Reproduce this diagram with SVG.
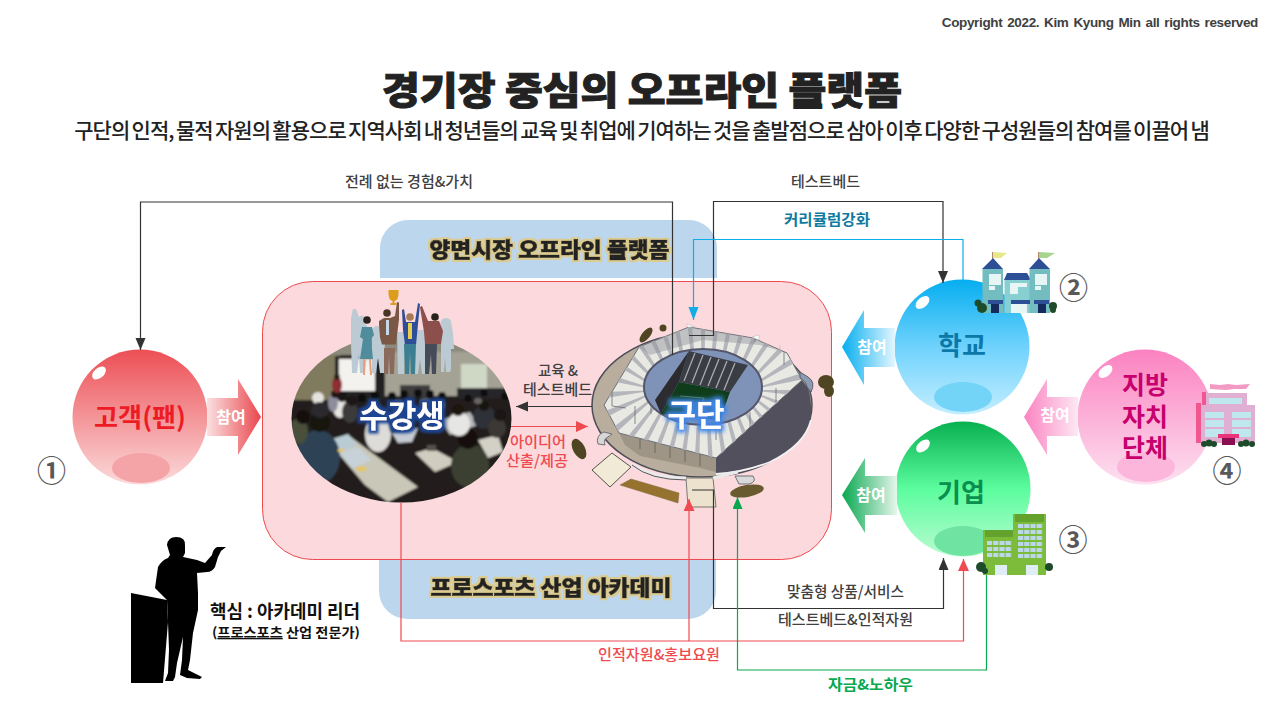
<svg xmlns="http://www.w3.org/2000/svg" width="1280" height="720" viewBox="0 0 1280 720">
<style>
text{font-family:"Noto Sans CJK KR","Noto Sans KR","Liberation Sans",sans-serif;text-anchor:middle}
.lb{font-size:15px;font-weight:500;fill:#404040}
.join{font-size:16px;font-weight:700;fill:#fff}
.num{font-size:29px;font-weight:700;fill:#595959}
.band{font-size:21px;font-weight:900;fill:#222;stroke:#222;stroke-width:.7px}
.glow{font-size:31px;font-weight:700;fill:#fff}
.c{fill:none;stroke-width:1.200}
.hi{fill:#fff}
.w{fill:none;stroke-dasharray:5.200 1}
</style>
<defs>
<linearGradient id="gRed" x1="0" y1="0" x2="0" y2="1"><stop offset="0" stop-color="#ec4f55"/><stop offset="1" stop-color="#fbdadb"/></linearGradient>
<linearGradient id="gBlue" x1="0" y1="0" x2="0" y2="1"><stop offset="0" stop-color="#05aef0"/><stop offset=".5" stop-color="#6fd2fc"/><stop offset="1" stop-color="#c4eeff"/></linearGradient>
<linearGradient id="gGreen" x1="0" y1="0" x2="0" y2="1"><stop offset="0" stop-color="#08b050"/><stop offset=".5" stop-color="#5cfd9e"/><stop offset="1" stop-color="#b9fbd1"/></linearGradient>
<linearGradient id="gPink" x1="0" y1="0" x2="0" y2="1"><stop offset="0" stop-color="#fb82c0"/><stop offset="1" stop-color="#fde0f0"/></linearGradient>
<linearGradient id="aRed" x1="0" y1="0" x2="1" y2="0"><stop offset="0" stop-color="#fbe0e1"/><stop offset="1" stop-color="#e9474e"/></linearGradient>
<linearGradient id="aBlue" x1="1" y1="0" x2="0" y2="0"><stop offset="0" stop-color="#e4f6fe"/><stop offset="1" stop-color="#05aef0"/></linearGradient>
<linearGradient id="aGreen" x1="1" y1="0" x2="0" y2="0"><stop offset="0" stop-color="#e6f6ec"/><stop offset="1" stop-color="#08a850"/></linearGradient>
<linearGradient id="aPink" x1="1" y1="0" x2="0" y2="0"><stop offset="0" stop-color="#fde8f4"/><stop offset="1" stop-color="#fb82c0"/></linearGradient>
<clipPath id="cPhoto"><ellipse cx="401.500" cy="418.500" rx="110" ry="84"/></clipPath>
<clipPath id="cRoof"><polygon points="604,405 639,347 689,327 753,338 787,353 802,380 716,458 619,433"/></clipPath>
<filter id="soft" x="-5%" y="-5%" width="110%" height="110%"><feGaussianBlur stdDeviation=".8"/></filter>
<filter id="soft2" x="-5%" y="-5%" width="110%" height="110%"><feGaussianBlur stdDeviation=".35"/></filter>
<filter id="bandF" x="-5%" y="-20%" width="110%" height="140%">
<feMorphology in="SourceAlpha" operator="dilate" radius="2" result="o"/><feFlood flood-color="#dccb8f"/><feComposite in2="o" operator="in" result="tan"/>
<feMerge><feMergeNode in="tan"/><feMergeNode in="SourceGraphic"/></feMerge></filter>
<filter id="glowD" x="-20%" y="-30%" width="140%" height="160%">
<feMorphology in="SourceAlpha" operator="dilate" radius="3" result="o"/><feGaussianBlur in="o" stdDeviation="1.500" result="b"/><feFlood flood-color="#1c4594"/><feComposite in2="b" operator="in" result="g"/>
<feMerge><feMergeNode in="g"/><feMergeNode in="SourceGraphic"/></feMerge></filter>
<filter id="glowL" x="-20%" y="-30%" width="140%" height="160%">
<feMorphology in="SourceAlpha" operator="dilate" radius="2.500" result="o"/><feGaussianBlur in="o" stdDeviation="2" result="b"/><feFlood flood-color="#3f86e8"/><feComposite in2="b" operator="in" result="g"/>
<feMerge><feMergeNode in="g"/><feMergeNode in="SourceGraphic"/></feMerge></filter>
<marker id="mD" markerWidth="13" markerHeight="12" refX="12" refY="5" orient="auto" markerUnits="userSpaceOnUse"><path d="M0,0L12,5L0,10Z" fill="#333"/></marker>
<marker id="mR" markerWidth="13" markerHeight="12" refX="12" refY="5.500" orient="auto" markerUnits="userSpaceOnUse"><path d="M0,0L12,5.500L0,11Z" fill="#ee4a50"/></marker>
<marker id="mC" markerWidth="14" markerHeight="12" refX="13" refY="5" orient="auto" markerUnits="userSpaceOnUse"><path d="M0,0L13,5L0,10Z" fill="#10aee8"/></marker>
<marker id="mG" markerWidth="13" markerHeight="12" refX="12" refY="5" orient="auto" markerUnits="userSpaceOnUse"><path d="M0,0L12,5L0,10Z" fill="#08a850"/></marker>
</defs>
<rect width="1280" height="720" fill="#fff"/>

<g id="header">
<text x="1258" y="27" style="font-family:'Liberation Sans',sans-serif;font-size:13.500px;font-weight:700;fill:#404040;text-anchor:end;word-spacing:1.500px;letter-spacing:-.36px">Copyright 2022. Kim Kyung Min all rights reserved</text>
<text x="642" y="104" style="font-size:38px;font-weight:900;fill:#222;stroke:#222;stroke-width:1px" textLength="520" lengthAdjust="spacingAndGlyphs">경기장 중심의 오프라인 플랫폼</text>
<text x="641.500" y="138" style="font-size:21px;font-weight:500;fill:#222;word-spacing:-1.500px;letter-spacing:-.95px">구단의 인적, 물적 자원의 활용으로 지역사회 내 청년들의 교육 및 취업에 기여하는 것을 출발점으로 삼아 이후 다양한 구성원들의 참여를 이끌어 냄</text>
</g>

<g id="platform">
<path d="M380,278V248a28,28 0 0 1 28,-28H689a28,28 0 0 1 28,28V278Z" fill="#bcd6ee"/>
<path d="M379,550H716V591a28,28 0 0 1 -28,28H407a28,28 0 0 1 -28,-28Z" fill="#bcd6ee"/>
<rect x="262.500" y="281.500" width="569" height="278" rx="50" fill="#fbd9dc" stroke="#ee4a50" stroke-width="1"/>
<text class="band" x="549.500" y="257" filter="url(#bandF)" textLength="240" lengthAdjust="spacingAndGlyphs">양면시장 오프라인 플랫폼</text>
<text class="band" x="551" y="595" filter="url(#bandF)" textLength="241" lengthAdjust="spacingAndGlyphs">프로스포츠 산업 아카데미</text>
</g>

<g id="students">
<g clip-path="url(#cPhoto)"><g filter="url(#soft)">
<rect x="285" y="330" width="232" height="180" fill="#211e1a"/>
<rect x="285" y="330" width="232" height="25" fill="#8b8a7c"/>
<rect x="285" y="355" width="55" height="45" fill="#807a5e"/>
<rect x="375" y="352" width="140" height="44" fill="#a4a294"/>
<rect x="335" y="356" width="50" height="44" fill="#232220"/>
<rect x="339" y="359" width="36" height="32" fill="#f4f2ef"/>
<rect x="461" y="364" width="26" height="24" fill="#cfd8c5"/>
<rect x="457" y="388" width="50" height="10" fill="#26262a"/>
<rect x="400" y="385" width="30" height="12" fill="#3c3c3c"/>
<polygon points="327,440 348,435 418,487 388,502 365,485" fill="#c9c7b8"/>
<polygon points="330,440 348,434 358,445 340,451" fill="#b9ccd4"/>
<polygon points="338,452 358,447 372,460 352,468" fill="#c6d2d8"/>
<polygon points="415,453 432,448 458,462 435,472" fill="#d0cdc0"/>
<polygon points="478,440 498,435 503,452 488,458" fill="#d3d0c6"/>
<polygon points="392,433 418,428 412,442 398,443" fill="#c6ccd4"/>
<polygon points="440,420 470,412 478,425 450,435" fill="#b4b6ba"/>
<ellipse cx="318" cy="457" rx="22" ry="27" fill="#2f4357"/>
<circle cx="320" cy="422" r="10" fill="#191411"/>
<ellipse cx="299" cy="431" rx="9" ry="13" fill="#4a4f3a"/>
<circle cx="303" cy="417" r="7" fill="#15110e"/>
<circle cx="318" cy="398" r="6" fill="#e5e3de"/><ellipse cx="320" cy="410" rx="9" ry="8" fill="#2a2a2e"/>
<ellipse cx="340" cy="408" rx="7" ry="10" fill="#e7e5e2"/><circle cx="342" cy="397" r="5" fill="#1b1714"/>
<ellipse cx="333" cy="403" rx="5" ry="9" fill="#8d8d9d"/><circle cx="335" cy="394" r="4" fill="#1b1714"/>
<ellipse cx="337" cy="385" rx="5" ry="8" fill="#8c2d32"/><circle cx="337" cy="377" r="3" fill="#2a1c18"/>
<ellipse cx="350" cy="412" rx="8" ry="11" fill="#3b3a3a"/><circle cx="352" cy="401" r="5" fill="#1a1613"/>
<ellipse cx="378" cy="434" rx="13" ry="18" fill="#dedcd8"/>
<circle cx="378" cy="414" r="6" fill="#1a1512"/>
<ellipse cx="470" cy="466" rx="19" ry="22" fill="#3b4033"/><circle cx="468" cy="439" r="10" fill="#15100d"/>
<ellipse cx="459" cy="424" rx="11" ry="12" fill="#e6e6e4"/><circle cx="458" cy="410" r="6" fill="#1a1511"/>
<ellipse cx="484" cy="417" rx="11" ry="12" fill="#2e3038"/><circle cx="484" cy="406" r="5" fill="#171310"/>
<ellipse cx="497" cy="428" rx="9" ry="10" fill="#3a3836"/><circle cx="500" cy="415" r="6" fill="#1a1613"/>
<g fill="#0e0c0a"><circle cx="362" cy="398" r="4"/><circle cx="375" cy="395" r="4"/><circle cx="392" cy="396" r="4"/><circle cx="404" cy="394" r="4"/><circle cx="418" cy="393" r="4"/><circle cx="430" cy="394" r="4"/><circle cx="442" cy="396" r="4"/><circle cx="468" cy="398" r="3.500"/><circle cx="484" cy="393" r="3.500"/><circle cx="505" cy="396" r="3.500"/></g>
<g fill="#6a6864"><ellipse cx="398" cy="404" rx="5" ry="4"/><ellipse cx="425" cy="402" rx="5" ry="4"/><ellipse cx="440" cy="405" rx="5" ry="4"/><ellipse cx="478" cy="401" rx="4" ry="3"/></g>
<rect x="427" y="445" width="9" height="6" fill="#555148"/><rect x="357" y="467" width="9" height="4" fill="#e6c64c"/><rect x="338" y="449" width="6" height="3" fill="#e6c64c"/>
</g></g>
<g id="people" filter="url(#soft2)">
<g fill="#bccad4">
<path d="M353,309l3,0l3,8a5,5 0 1 1 0,8h8v30l-2,18h-5l-1,-18l-2,18h-5l-1,-30l0,-25z"/>
<path d="M372,331a5,5 0 1 1 10,0l3,6l-1,36h-4l-2,-15l-2,15h-4z"/>
<path d="M397,332h8v10l-1,32h-6z"/>
<path d="M415,330h10v44h-3l-2,-15l-2,15h-3z"/>
<path d="M441,326a5.500,5.500 0 0 1 10,-5l2,12l1,16h-3v20l-1,3h-4l-1,-14l-1,14h-3z"/>
</g>
<g id="p1"><circle cx="367" cy="320" r="3.800" fill="#2c201a"/><path d="M362,327h10l2,8l-3,4l2,20l-13,0l3,-20l-3,-2z" fill="#4f8c9c"/><path d="M364,359l0,16M370,359l1,16" stroke="#e8a17c" stroke-width="2"/></g>
<g id="p2"><circle cx="387" cy="313" r="3.800" fill="#4a3626"/><path d="M379,321l5,-3h6l5,-2l2,-14l2,0.500l0,17l-2,16l-1,9h-14l-2,-7l-1,-13z" fill="#7a5844"/><path d="M384,348h11l-1,26h-4l-1,-18l-1,18h-4z" fill="#8a6a5c"/><rect x="386" y="320" width="3" height="15" fill="#c5d8e8"/></g>
<g id="p3"><circle cx="410" cy="317" r="3.800" fill="#a87a55"/><path d="M402,310l2,-1l2,13h9l3,-19l2,1l-2,20l-2,21h-11l-2,-15z" fill="#2e4f97"/><rect x="408" y="323" width="4" height="16" fill="#e6d050"/><path d="M404,344h12l-1,30h-4l-1,-22l-1,22h-4z" fill="#3c7f92"/></g>
<g id="p4"><circle cx="435" cy="317" r="3.800" fill="#2b211d"/><path d="M420,307l2,-1l6,15h11l4,10l-2,13h-16l-1,-12z" fill="#8c4f4c"/><path d="M425,344h12l-1,30h-4l-1,-20l-2,20h-4z" fill="#444c58"/></g>
<path d="M388.500,290h10v3q0,7-4,8l0,2h2v2h-6v-2h2l0,-2q-4,-1-4,-8z" fill="#dc9c1e"/>
</g>
<text class="glow" x="402" y="427" filter="url(#glowD)">수강생</text>
</g>

<g id="club">
<ellipse cx="702" cy="405" rx="110" ry="72" fill="#b9ae9e" stroke="#4c4d58" stroke-width="1.500"/>
<path d="M802,380L808,388Q812,400 811,420Q805,445 770,462Q745,472 716,474L716,458Z" fill="#51505c"/>
<path d="M811,420Q805,445 770,462Q745,472 716,474" fill="none" stroke="#f2f2f2" stroke-width="1.800"/>
<polygon points="619,433 716,458 716,472 700,468 640,456 625,445" fill="#9e9586"/>
<g stroke="#6b6860" stroke-width="1"><path d="M640,437V449M655,441V453M670,445V458M685,449V462M700,453V466"/></g>
<polygon points="604,405 639,347 689,327 753,338 787,353 802,380 716,458 619,433" fill="#e9e9e4" stroke="#6d6f78" stroke-width="1"/>
<g clip-path="url(#cRoof)">
<ellipse cx="703" cy="390" rx="80" ry="52" fill="none" stroke="#b4b6bb" stroke-width="60" stroke-dasharray="4 8"/>
<path d="M639,347L689,327L753,338L787,353L760,345L703,340L650,355Z" fill="#8e9098" opacity=".45"/>
<path d="M612,388v18l14,2M626,360v-8l10,-3M651,414v-10l8,5M635,424v-18M696,420v-18M716,440v-18M750,428v-16M776,402v-14M784,365v-14M755,342v-12M727,334l0,-10" fill="none" stroke="#6b6d75" stroke-width=".8"/>
</g>
<path d="M687,324l8,3l-8,0zM752,337l7,-2l0,5zM780,345v8" fill="#fff" stroke="#b0b0b0" stroke-width=".5"/>
<ellipse cx="703" cy="387" rx="59" ry="38" fill="#7f93b8" stroke="#55566a" stroke-width="2"/>
<polygon points="689,351 748,365 730,392 679,382" fill="#3b3d44"/>
<polygon points="679,382 689,351 655,400 661,414" fill="#2c2c30"/>
<polygon points="679,382 730,392 720,420 661,414" fill="#0f3d1c"/>
<path d="M695,353L684,381M703,355L692,383M711,357L700,385M719,359L708,386M727,361L716,388M735,363L724,390" stroke="#a9abb0" stroke-width="1.300"/>
<path d="M680,396L704,398L700,414" fill="none" stroke="#7fa78c" stroke-width=".6"/>
<polygon points="592,470 612,453 631,467 610,487" fill="#f0ead6" stroke="#55534c" stroke-width="1"/>
<polygon points="686,478 713,478 716,507 688,507" fill="#ece2cd" stroke="#7a7872" stroke-width="1"/>
<polygon points="620,485 631,479 679,493 678,503" fill="#96722f" stroke="#7e6a40" stroke-width=".5"/>
<path d="M632,464Q650,478 686,478M713,478L738,472" fill="none" stroke="#eaeaea" stroke-width="3"/>
<path d="M632,465Q650,480 686,480" fill="none" stroke="#55565f" stroke-width="1"/>
<path d="M598,444a9,9 0 0 1 6,-12l8,2l-4,3q-5,2-3,8z" fill="#d7d7d7" stroke="#6f7078" stroke-width="1"/>
<path d="M800,372l8,5q8,5 3,15l-4,-5q-1,-6-7,-9z" fill="#8b9bb4" stroke="#5b5d68" stroke-width="1"/>
<path d="M735,476h18q4,6-4,8h-10z" fill="#d9d9d9" stroke="#6f7078" stroke-width="1"/>
<g fill="#4f4522"><ellipse cx="646" cy="335" rx="4" ry="9" transform="rotate(40 646 335)"/><circle cx="663" cy="328" r="3.500"/><ellipse cx="826" cy="382" rx="8" ry="7"/><ellipse cx="829" cy="391" rx="5" ry="6"/><ellipse cx="579" cy="449" rx="6" ry="11" transform="rotate(-28 579 449)"/><ellipse cx="747" cy="491" rx="17" ry="6" transform="rotate(-10 747 491)" fill="#6a5a30"/></g>
<text class="glow" x="696" y="426" filter="url(#glowL)">구단</text>
</g>

<g id="fan">
<circle cx="140" cy="417" r="67.500" fill="url(#gRed)"/>
<ellipse cx="141" cy="468" rx="29" ry="15" fill="#f4a3a6"/>
<ellipse cx="99" cy="373" rx="8" ry="5" class="hi" transform="rotate(-40 99 373)"/>
<text x="140" y="427" style="font-size:26px;font-weight:700;fill:#ed1c24" textLength="92" lengthAdjust="spacingAndGlyphs">고객(팬)</text>
<path d="M207,398H238V379L261,417L238,455V436H207Z" fill="url(#aRed)"/>
<text class="join" x="231" y="423">참여</text>
<text class="num" x="51.500" y="482">①</text>
</g>

<g id="school">
<circle cx="962" cy="347" r="67.500" fill="url(#gBlue)"/>
<ellipse cx="963" cy="397" rx="29" ry="15" fill="#74d4f8"/>
<ellipse cx="922.500" cy="302.500" rx="8" ry="5" class="hi" transform="rotate(-40 922.500 302.500)"/>
<text x="962" y="355" style="font-size:26px;font-weight:700;fill:#0b78a8">학교</text>
<path d="M895,328H864V310L842,347L864,385V367H895Z" fill="url(#aBlue)"/>
<text class="join" x="872" y="353">참여</text>
<text class="num" x="1073.500" y="299">②</text>
<g id="school-building">
<path d="M992.500,252V260M1038.500,252V260" stroke="#b08a6a" stroke-width="1"/>
<path d="M993,252l14,1l-6,5h-8z" fill="#e6e88a"/><path d="M1039,252l16,1l-8,5h-8z" fill="#a6d48e"/>
<path d="M982,269L993,258L1003,269Z M1029,269L1039,258L1050,269Z M1004,280l3,-7h20l4,7z" fill="#2c4f96"/>
<rect x="982.500" y="269" width="20.500" height="44" fill="#73bcc0"/><rect x="1004.500" y="280" width="26" height="33" fill="#88cfd2"/><rect x="1029.500" y="269" width="20.500" height="44" fill="#73bcc0"/>
<g fill="#e8f5f5"><rect x="989" y="274" width="12" height="11"/><rect x="989" y="286" width="6" height="4"/><rect x="1010" y="283" width="8" height="11"/><rect x="1018" y="283" width="9" height="4"/><rect x="1035" y="274" width="12" height="11"/><rect x="1035" y="286" width="6" height="4"/></g>
<g fill="#2c4f96"><rect x="988" y="300" width="15" height="4"/><rect x="1011" y="300" width="19" height="4"/><rect x="1034" y="300" width="15" height="4"/></g>
<rect x="991" y="304" width="8" height="9" fill="#142a5c"/><rect x="1011" y="304" width="16" height="9" fill="#e8f5f5"/><rect x="1038" y="304" width="8" height="9" fill="#142a5c"/>
<g fill="#1e4c2a"><circle cx="978" cy="303" r="3.500"/><circle cx="982" cy="308" r="5"/><circle cx="1053" cy="306" r="4"/><circle cx="1053" cy="310" r="3"/></g>
</g>
</g>

<g id="company">
<circle cx="963" cy="489" r="67.500" fill="url(#gGreen)"/>
<ellipse cx="963" cy="541" rx="29" ry="15" fill="#6fe4a2"/>
<ellipse cx="923" cy="446" rx="8" ry="5" class="hi" transform="rotate(-40 923 446)"/>
<text x="961" y="502" style="font-size:26px;font-weight:700;fill:#0a8f4f">기업</text>
<path d="M897,476H865V458L842,495L865,533V515H897Z" fill="url(#aGreen)"/>
<text class="join" x="871" y="501">참여</text>
<text class="num" x="1073" y="551">③</text>
<g id="company-building">
<rect x="1013" y="514" width="33" height="61" fill="#7dbb3a"/><rect x="1015" y="514" width="29" height="8" fill="#63a32d"/>
<rect x="983" y="530" width="30" height="45" fill="#7dbb3a"/><rect x="985" y="530" width="28" height="7" fill="#63a32d"/>
<path class="w" d="M987,543H1012M987,549H1012M987,555H1012" stroke="#bcd6ea" stroke-width="4"/>
<path class="w" d="M1018,526H1043M1018,532H1043M1018,538H1043M1018,544H1043M1018,550H1043M1018,556H1043" stroke="#bcd6ea" stroke-width="4"/>
<rect x="995" y="565" width="12" height="10" fill="#dfeef5"/><rect x="1026" y="565" width="12" height="10" fill="#dfeef5"/>
<g fill="#1e4c2a"><circle cx="981" cy="567" r="5"/><circle cx="985" cy="571" r="3"/><circle cx="1049" cy="567" r="4"/></g>
</g>
</g>

<g id="local">
<circle cx="1145" cy="417" r="67.500" fill="url(#gPink)"/>
<ellipse cx="1146" cy="467" rx="29" ry="15" fill="#fcb6dc"/>
<ellipse cx="1105.500" cy="371.500" rx="8" ry="5" class="hi" transform="rotate(-40 1105.500 371.500)"/>
<text style="font-size:25px;font-weight:700;fill:#c8006e"><tspan x="1145" y="394">지방</tspan><tspan x="1145" y="426">자치</tspan><tspan x="1145" y="457">단체</tspan></text>
<path d="M1078,397H1047V379L1024,417L1047,455V436H1078Z" fill="url(#aPink)"/>
<text class="join" x="1055" y="421">참여</text>
<text class="num" x="1227" y="482">④</text>
<g id="local-building">
<path d="M1210,384l10,1l8,-1l8,1l14,-1l-4,5l-12,0l-8,1l-16,-1z" fill="#f29ac4"/>
<rect x="1202" y="393" width="45" height="14" fill="#e0b0d2"/><rect x="1202" y="392" width="4" height="16" fill="#f0578f"/>
<rect x="1197" y="405" width="58" height="38" fill="#e0b0d2"/><rect x="1196" y="403" width="5" height="40" fill="#f0578f"/>
<g fill="#bfe8ee"><rect x="1209" y="398" width="33" height="6"/><rect x="1205" y="412" width="19" height="25"/><rect x="1232" y="412" width="19" height="25"/></g>
<path d="M1205,419h19M1205,428h19M1232,419h19M1232,428h19" stroke="#e0b0d2" stroke-width="2"/>
<rect x="1218" y="434" width="21" height="4" fill="#e8347a"/><rect x="1222" y="438" width="13" height="7" fill="#8a0f50"/>
<g fill="#1e4c2a"><circle cx="1204" cy="444" r="3"/><circle cx="1209" cy="443" r="3.500"/><circle cx="1214" cy="444" r="3"/><circle cx="1241" cy="444" r="3"/><circle cx="1246" cy="443" r="3.500"/><circle cx="1252" cy="444" r="3"/></g>
</g>
</g>

<g id="leader">
<path d="M131,593L167,600L168,622L163,683H131Z" fill="#000"/>
<path d="M167,545Q168,537 176,537Q186,537 185,546L185,553L183,557L197,560L205,563L212,555Q213,549 217,547L226,547L221,551L218,557L215,567Q212,572 207,572L197,573L198,593L198,610L193,633L190,660L188,670L202,677L200,679L187,678L180,675L182,660L183,637L177,663L175,677L173,681L165,681L168,673L169,650L168,622L167,600L155,588L158,567Q162,560 168,558L170,555Z" fill="#000"/>
<text x="285" y="618" style="font-size:18px;font-weight:700;fill:#111" textLength="150" lengthAdjust="spacingAndGlyphs">핵심 : 아카데미 리더</text>
<text x="286" y="637" style="font-size:13px;font-weight:700;fill:#111" textLength="148" lengthAdjust="spacingAndGlyphs">(<tspan text-decoration="underline">프로스포츠</tspan> 산업 전문가)</text>
</g>

<g id="connectors">
<path class="c" d="M672.500,355V202H140.500V350" stroke="#333" marker-end="url(#mD)"/>
<path class="c" d="M689,335.500H713.500V201.500H943V283" stroke="#333" marker-end="url(#mD)"/>
<path class="c" d="M963,280V239.500H693.500V320" stroke="#10aee8" marker-end="url(#mC)"/>
<path class="c" d="M592,406.500H516" stroke="#333" marker-end="url(#mD)"/>
<path class="c" d="M511,426.500H588" stroke="#ee4a50" marker-end="url(#mR)"/>
<path class="c" d="M401,503V641H963.500V559" stroke="#ee4a50" marker-end="url(#mR)"/>
<path class="c" d="M689,641V499" stroke="#ee4a50" marker-end="url(#mR)"/>
<path class="c" d="M692,490H713.500V608.500H943.500V558" stroke="#333" marker-end="url(#mD)"/>
<path class="c" d="M986.500,575V670H737.500V497" stroke="#08a850" marker-end="url(#mG)"/>
</g>

<g id="labels">
<text class="lb" x="409" y="187" textLength="128" lengthAdjust="spacingAndGlyphs">전례 없는 경험&amp;가치</text>
<text class="lb" x="825.500" y="187" textLength="69" lengthAdjust="spacingAndGlyphs">테스트베드</text>
<text x="827" y="225" style="font-size:15px;font-weight:700;fill:#0f7aa0" textLength="86" lengthAdjust="spacingAndGlyphs">커리큘럼강화</text>
<text class="lb" x="558" y="376" textLength="40" lengthAdjust="spacingAndGlyphs">교육 &amp;</text>
<text class="lb" x="557.500" y="395" textLength="69" lengthAdjust="spacingAndGlyphs">테스트베드</text>
<g style="font-size:15px;font-weight:500;fill:#ee4a50"><text x="538" y="447" textLength="56" lengthAdjust="spacingAndGlyphs">아이디어</text><text x="537" y="466" textLength="62" lengthAdjust="spacingAndGlyphs">산출/제공</text></g>
<text class="lb" x="845.500" y="597" textLength="117" lengthAdjust="spacingAndGlyphs">맞춤형 상품/서비스</text>
<text class="lb" x="845.500" y="625" textLength="135" lengthAdjust="spacingAndGlyphs">테스트베드&amp;인적자원</text>
<text class="lb" x="659" y="660" style="fill:#ee4a50" textLength="122" lengthAdjust="spacingAndGlyphs">인적자원&amp;홍보요원</text>
<text class="lb" x="870.500" y="690" style="fill:#08a850;font-weight:700" textLength="85" lengthAdjust="spacingAndGlyphs">자금&amp;노하우</text>
</g>
</svg>
